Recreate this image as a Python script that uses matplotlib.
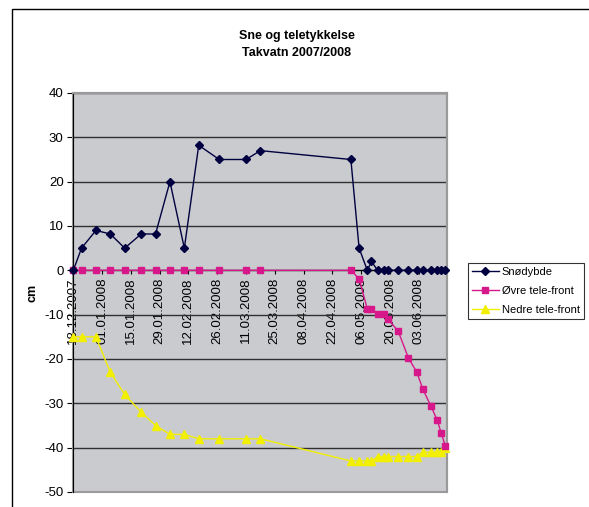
import matplotlib.pyplot as plt
import matplotlib.dates as mdates
from matplotlib.patches import Rectangle
from datetime import datetime, timedelta

plt.rcParams['font.family'] = ['Liberation Sans', 'DejaVu Sans']
plt.rcParams['axes.unicode_minus'] = False

# Måledatoer
datoer = ['18.12.2007', '22.12.2007', '29.12.2007', '05.01.2008', '12.01.2008',
          '20.01.2008', '27.01.2008', '03.02.2008', '10.02.2008', '17.02.2008',
          '27.02.2008', '11.03.2008', '18.03.2008', '01.05.2008', '05.05.2008',
          '09.05.2008', '11.05.2008', '14.05.2008', '17.05.2008', '19.05.2008',
          '24.05.2008', '29.05.2008', '02.06.2008', '05.06.2008', '09.06.2008',
          '12.06.2008', '14.06.2008', '16.06.2008']

snodybde = [0, 5, 9, 8.2, 5, 8.2, 8.2, 20, 5, 28.2, 25, 25, 27, 25, 5,
            0, 2, 0, 0, 0, 0, 0, 0, 0, 0, 0, 0, 0]
ovre = [0, 0, 0, 0, 0, 0, 0, 0, 0, 0, 0, 0, 0, 0, -1.9,
        -8.7, -8.8, -9.8, -9.8, -11, -13.7, -19.8, -22.9, -26.8, -30.7,
        -33.8, -36.8, -39.7]
nedre = [-15, -15, -15, -23, -28, -32, -35, -37, -37, -38, -38, -38, -38, -43, -43,
         -43, -43, -42, -42, -42, -42, -42, -42, -41, -41, -41, -41, -40]

x = [datetime.strptime(d, '%d.%m.%Y') for d in datoer]

fig = plt.figure(figsize=(5.89, 5.07), dpi=100)
ax = fig.add_axes([73.3 / 589, 1 - 492 / 507, (447 - 73.3) / 589, (492 - 93) / 507])
ax.set_facecolor('#cacbcf')

# ytre ramme
fig.patches.append(Rectangle((12 / 589, -0.1), 1.0, 1.1 - 9 / 507,
                             transform=fig.transFigure, fill=False,
                             edgecolor='black', linewidth=1))

ax.plot(x, snodybde, color='#000040', marker='D', markersize=4, lw=1,
        label='Snødybde', clip_on=False, zorder=5)
ax.plot(x, ovre, color='#d6188a', marker='s', markersize=4, lw=1,
        label='Øvre tele-front', clip_on=False, zorder=4)
ax.plot(x, nedre, color='#f2ef00', marker='^', markersize=6, lw=1,
        label='Nedre tele-front', clip_on=False, zorder=3)

ax.set_ylim(-50, 40)
ax.set_yticks(range(-50, 41, 10))
ax.set_xlim(x[0], x[-1] + timedelta(hours=18))
ticks = [x[0] + timedelta(days=14 * i) for i in range(13)]
ax.set_xticks(ticks)
ax.xaxis.set_major_formatter(mdates.DateFormatter('%d.%m.%Y'))
ax.tick_params(axis='x', labelrotation=90, labelsize=9.5, length=3, pad=2)
ax.tick_params(axis='y', labelsize=9.5, length=4, pad=3)

ax.grid(axis='y', color='#303030', lw=1)
ax.set_axisbelow(True)

ax.spines['bottom'].set_position(('data', 0))
ax.spines['bottom'].set_color('black')
ax.spines['left'].set_color('black')
ax.spines['top'].set_color('#9a9a9a')
ax.spines['right'].set_color('#9a9a9a')
ax.spines['top'].set_linewidth(1.5)
ax.spines['right'].set_linewidth(1.5)
ax.add_patch(Rectangle((0, 0), 1, 1, transform=ax.transAxes, fill=False,
                       edgecolor='#9a9a9a', lw=1.5, zorder=1, clip_on=False))
ax.tick_params(direction='out', color='black')

ax.set_ylabel('cm', fontsize=9, fontweight='bold')
ax.yaxis.set_label_coords(-0.093, 0.5)

fig.text(297 / 589, 1 - 36 / 507, 'Sne og teletykkelse', ha='center', va='center',
         fontsize=9, fontweight='bold')
fig.text(297 / 589, 1 - 53 / 507, 'Takvatn 2007/2008', ha='center', va='center',
         fontsize=9, fontweight='bold')

leg = ax.legend(loc='upper left', bbox_to_anchor=(468 / 589, 1 - 263 / 507),
                bbox_transform=fig.transFigure, fontsize=8, frameon=True,
                fancybox=False, edgecolor='black', handlelength=2.4,
                handletextpad=0.3, borderpad=0.35, borderaxespad=0,
                labelspacing=0.8)
leg.get_frame().set_linewidth(0.8)

fig.savefig('out.png', dpi=100)
